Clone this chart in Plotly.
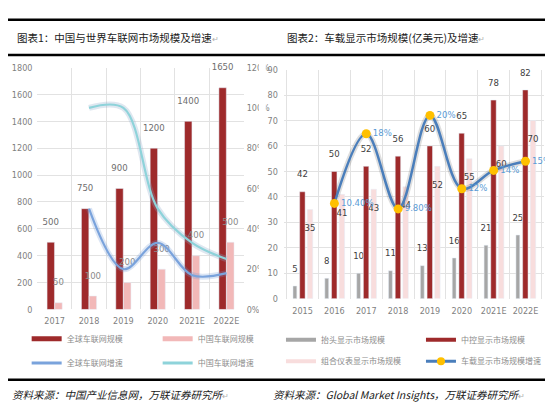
import plotly.graph_objects as go

# ---------------- data ----------------
years1 = ["2017", "2018", "2019", "2020", "2021E", "2022E"]
global_size = [500, 750, 900, 1200, 1400, 1650]
china_size = [50, 100, 200, 300, 400, 500]
global_growth = [None, 0.50, 0.20, 0.33, 0.17, 0.18]
china_growth = [None, 1.00, 1.00, 0.50, 0.33, 0.25]

years2 = ["2015", "2016", "2017", "2018", "2019", "2020", "2021E", "2022E"]
hud_size = [5, 8, 10, 11, 13, 16, 21, 25]
center_size = [42, 50, 52, 56, 60, 65, 78, 82]
cluster_size = [35, 41, 43, 44, 52, 55, 60, 70]
display_growth = [None, 0.104, 0.18, 0.098, 0.20, 0.12, 0.14, 0.15]
growth_labels = ["", "10.40%", "18%", "9.80%", "20%", "12%", "14%", "15%"]

title1 = "图表1：中国与世界车联网市场规模及增速"
title2 = "图表2：车载显示市场规模(亿美元)及增速"
source1 = "资料来源：中国产业信息网，万联证券研究所"
source2 = "资料来源：Global Market Insights，万联证券研究所"

# ---------------- styling ----------------
W, H = 553, 403
def fx(px): return px / W
def fy(py): return 1 - py / H

NUM_FONT = "Liberation Sans Narrow, DejaVu Sans Condensed, Arial Narrow, sans-serif"
CJK = "Noto Sans CJK SC"
DARK_RED = "#9E2A2B"
PINK1 = "#F2B8B8"
PINK2 = "#F8DDDD"
GRAY = "#A6A6A6"
GRID = "#E2E2E2"
TICK = dict(family=NUM_FONT, size=9, color="#7F7F7F")

def up(vals):
    # value label lifted one (invisible) line above the bar top
    return [f"{v}<br><span style='color:rgba(0,0,0,0)'>0</span>" for v in vals]

def down(vals):
    return [f"<span style='color:rgba(0,0,0,0)'>0</span><br>{v}" for v in vals]

fig = go.Figure()

# ---------------- chart 1 ----------------
fig.add_bar(x=years1, y=global_size, name="全球车联网规模", marker_color=DARK_RED,
            width=0.215, offset=-0.22, text=up(global_size), textposition="outside",
            constraintext="none", textangle=0, cliponaxis=False,
            textfont=dict(family=NUM_FONT, size=9.5, color="#6E6E6E"),
            xaxis="x", yaxis="y", showlegend=False)
fig.add_bar(x=years1, y=china_size, name="中国车联网规模", marker_color=PINK1,
            width=0.215, offset=0.005, text=up(china_size), textposition="outside",
            constraintext="none", textangle=0, cliponaxis=False,
            textfont=dict(family=NUM_FONT, size=9.5, color="#8A8A8A"),
            xaxis="x", yaxis="y", showlegend=False)
# halos
fig.add_scatter(x=years1, y=global_growth, mode="lines", line=dict(color="rgba(110,150,210,0.25)", width=6, shape="spline", smoothing=1.0),
                xaxis="x", yaxis="y2", showlegend=False, hoverinfo="skip")
fig.add_scatter(x=years1, y=china_growth, mode="lines", line=dict(color="rgba(140,170,200,0.28)", width=6, shape="spline", smoothing=1.0),
                xaxis="x", yaxis="y2", showlegend=False, hoverinfo="skip")
fig.add_scatter(x=years1, y=global_growth, mode="lines", name="全球车联网增速",
                line=dict(color="#7AA3DC", width=2.2, shape="spline", smoothing=1.0),
                xaxis="x", yaxis="y2", showlegend=False)
fig.add_scatter(x=years1, y=china_growth, mode="lines", name="中国车联网增速",
                line=dict(color="#8ED3DA", width=2.2, shape="spline", smoothing=1.0),
                xaxis="x", yaxis="y2", showlegend=False)

# legend entries chart 1
for nm, col, lg in [("全球车联网规模", DARK_RED, "legend"), ("中国车联网规模", PINK1, "legend"),
                    ("全球车联网增速", "#7AA3DC", "legend2"), ("中国车联网增速", "#8ED3DA", "legend2")]:
    fig.add_scatter(x=[None], y=[None], mode="lines", name=nm, line=dict(color=col, width=5 if "规模" in nm else 3),
                    xaxis="x", yaxis="y", legend=lg)

# ---------------- chart 2 ----------------
fig.add_bar(x=years2, y=hud_size, name="抬头显示市场规模", marker_color=GRAY,
            width=0.12, offset=-0.30, text=up(hud_size), textposition="outside",
            constraintext="none", textangle=0, cliponaxis=False,
            textfont=dict(family=NUM_FONT, size=9.5, color="#404040"),
            xaxis="x2", yaxis="y3", showlegend=False)
fig.add_bar(x=years2, y=center_size, name="中控显示市场规模", marker_color=DARK_RED,
            width=0.17, offset=-0.09, text=up(center_size), textposition="outside",
            constraintext="none", textangle=0, cliponaxis=False,
            textfont=dict(family=NUM_FONT, size=9.5, color="#404040"),
            xaxis="x2", yaxis="y3", showlegend=False)
fig.add_bar(x=years2, y=cluster_size, name="组合仪表显示市场规模", marker_color=PINK2,
            width=0.17, offset=0.15, text=down(cluster_size), textposition="inside",
            insidetextanchor="end", constraintext="none", textangle=0,
            textfont=dict(family=NUM_FONT, size=9.5, color="#404040"),
            xaxis="x2", yaxis="y3", showlegend=False)
fig.add_scatter(x=years2, y=display_growth, mode="lines",
                line=dict(color="rgba(70,70,70,0.18)", width=6, shape="spline", smoothing=1.0),
                xaxis="x2", yaxis="y4", showlegend=False, hoverinfo="skip")
fig.add_scatter(x=years2, y=display_growth, mode="lines+markers+text", name="车载显示市场规模增速",
                line=dict(color="#4A7EBB", width=2.5, shape="spline", smoothing=1.0),
                marker=dict(color="#FFC000", size=9),
                text=growth_labels, textposition="middle right",
                textfont=dict(family=NUM_FONT, size=9.5, color="#5B9BD5"),
                cliponaxis=False, xaxis="x2", yaxis="y4", showlegend=False)

for nm, col, lg in [("抬头显示市场规模", GRAY, "legend3"), ("中控显示市场规模", DARK_RED, "legend3"),
                    ("组合仪表显示市场规模", PINK2, "legend4")]:
    fig.add_scatter(x=[None], y=[None], mode="lines", name=nm, line=dict(color=col, width=4),
                    xaxis="x2", yaxis="y3", legend=lg)
fig.add_scatter(x=[None], y=[None], mode="lines+markers", name="车载显示市场规模增速",
                line=dict(color="#4A7EBB", width=3), marker=dict(color="#FFC000", size=8),
                xaxis="x2", yaxis="y3", legend="legend4")

# ---------------- layout ----------------
xcommon = dict(type="category", tickson="boundaries", showgrid=True, gridcolor=GRID, gridwidth=1,
               ticks="", showline=False, zeroline=False, tickfont=TICK, tickangle=0, fixedrange=True)
ycommon = dict(showgrid=True, gridcolor=GRID, gridwidth=1, ticks="", showline=False,
               zeroline=False, tickfont=TICK, fixedrange=True)

legend_common = dict(orientation="h", xanchor="left", yanchor="middle", bgcolor="rgba(0,0,0,0)",
                     font=dict(family=CJK, size=8, color="#8C8C8C"), entrywidthmode="pixels",
                     itemclick=False, itemdoubleclick=False, tracegroupgap=0)

fig.update_layout(
    width=W, height=H, margin=dict(l=0, r=0, t=0, b=0),
    paper_bgcolor="white", plot_bgcolor="white",
    barmode="group", showlegend=True,
    xaxis=dict(domain=[fx(30), fx(240)], anchor="y", ticklabelstandoff=5, **xcommon),
    yaxis=dict(domain=[fy(304), fy(56)], anchor="x", range=[0, 1800], dtick=200,
               ticklabelstandoff=4, **ycommon),
    yaxis2=dict(overlaying="y", side="right", anchor="x", range=[0, 1.2], dtick=0.2,
                tickformat=".0%", showgrid=False, ticks="", showline=False, zeroline=False,
                tickfont=TICK, ticklabelstandoff=2, fixedrange=True),
    xaxis2=dict(domain=[fx(281), fx(546)], anchor="y3", ticklabelstandoff=5, **xcommon),
    yaxis3=dict(domain=[fy(293), fy(58)], anchor="x2", range=[0, 90], dtick=10,
                ticklabelstandoff=5, **ycommon),
    yaxis4=dict(overlaying="y3", side="right", anchor="x2", range=[0, 0.25],
                showgrid=False, showticklabels=False, ticks="", showline=False,
                zeroline=False, fixedrange=True),
    legend=dict(x=fx(19), y=fy(334), entrywidth=86, **legend_common),
    legend2=dict(x=fx(19), y=fy(359), entrywidth=86, **legend_common),
    legend3=dict(x=fx(278), y=fy(335), entrywidth=95, **legend_common),
    legend4=dict(x=fx(278), y=fy(357), entrywidth=95, **legend_common),
)

# horizontal rules
for py, wdt in [(7, 2.5), (43, 2.5), (376, 2.5)]:
    fig.add_shape(type="line", xref="paper", yref="paper", x0=0, x1=1, y0=fy(py), y1=fy(py),
                  line=dict(color="black", width=wdt), layer="above")
# the right picture overlaps the left picture's right axis
fig.add_shape(type="rect", xref="paper", yref="paper", x0=fx(255.5), x1=fx(262.5),
              y0=fy(310), y1=fy(48), fillcolor="white", line=dict(width=0), layer="above")

MARK = "<span style='color:#B0B0B0;font-size:8px'>↵</span>"
for txt, x, y, it in [(title1, 7, 25, False), (title2, 282, 25, False),
                      (source1, 2, 391, True), (source2, 268, 391, True)]:
    t = (f"<i>{txt}</i>" if it else txt) + MARK
    fig.add_annotation(text=t, xref="paper", yref="paper", x=fx(x), y=fy(y), xanchor="left",
                       yanchor="middle", showarrow=False,
                       font=dict(family=CJK, size=10.5, color="#1A1A1A"))

fig.write_html("out.html")
